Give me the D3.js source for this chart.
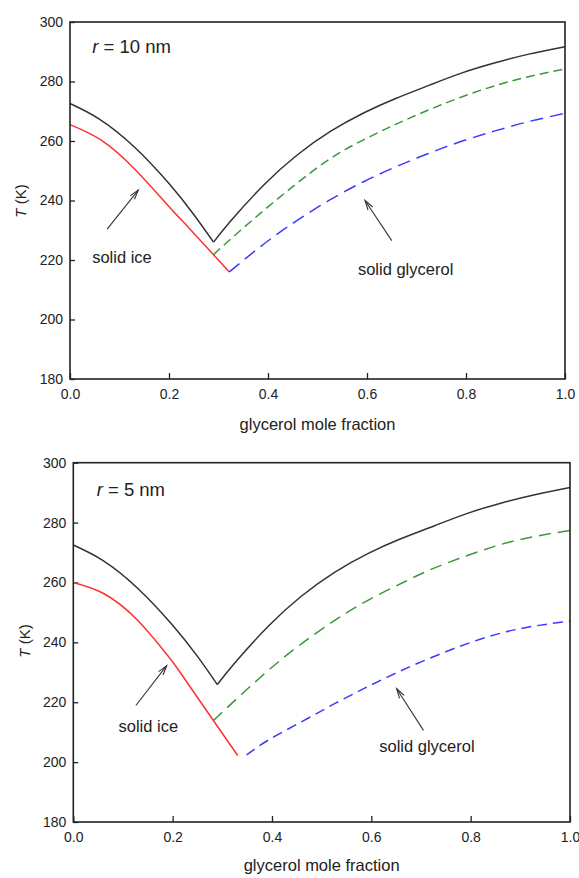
<!DOCTYPE html>
<html>
<head>
<meta charset="utf-8">
<script src="https://cdn.jsdelivr.net/npm/d3@7"></script>
<style>
  html, body { margin: 0; padding: 0; background: #fff; }
  svg { display: block; font-family: "Liberation Sans", Arial, sans-serif; }
</style>
</head>
<body>
<svg id="chart" width="579" height="878"></svg>
<script>
// ---------------- data ----------------
const xTicks = [0, 0.2, 0.4, 0.6, 0.8, 1.0];
const yTicks = [180, 200, 220, 240, 260, 280, 300];

// r = 10 nm panel
const blackLeft10X  = [0, 0.06, 0.13, 0.2, 0.25, 0.29];
const blackLeft10T  = [272.6, 267.3, 258.0, 245.7, 235.3, 226.0];
const blackRight10X = [0.29, 0.325, 0.392, 0.459, 0.526, 0.594, 0.658, 0.725, 0.792, 0.859, 0.927, 1.0];
const blackRight10T = [226.0, 233.2, 245.3, 255.3, 263.2, 269.5, 274.3, 278.7, 282.9, 286.3, 289.2, 291.7];
const red10X   = [0, 0.063, 0.131, 0.198, 0.222, 0.25, 0.29, 0.322];
const red10T   = [265.5, 260.3, 250.5, 238.3, 234.0, 229.0, 221.8, 216.0];
const green10X = [0.29, 0.323, 0.391, 0.458, 0.525, 0.593, 0.658, 0.724, 0.791, 0.859, 0.926, 1.0];
const green10T = [221.8, 226.8, 236.6, 245.7, 254.0, 260.4, 265.6, 270.4, 274.8, 278.6, 281.6, 284.2];
const blue10X  = [0.322, 0.391, 0.458, 0.525, 0.593, 0.658, 0.724, 0.791, 0.859, 0.926, 1.0];
const blue10T  = [216.0, 225.3, 233.2, 240.2, 246.3, 251.3, 255.8, 259.9, 263.4, 266.5, 269.3];

// r = 5 nm panel
const blackLeft5X  = [0, 0.06, 0.13, 0.2, 0.25, 0.29];
const blackLeft5T  = [272.5, 267.3, 258.0, 245.7, 235.3, 225.9];
const blackRight5X = [0.29, 0.325, 0.392, 0.459, 0.526, 0.594, 0.658, 0.725, 0.792, 0.859, 0.927, 1.0];
const blackRight5T = [225.9, 233.1, 245.3, 255.4, 263.4, 269.7, 274.5, 278.8, 283.0, 286.4, 289.2, 291.7];
const red5X   = [0, 0.06, 0.128, 0.19, 0.215, 0.282, 0.331];
const red5T   = [260.0, 256.4, 247.6, 235.6, 230.0, 213.9, 202.2];
const green5X = [0.282, 0.326, 0.393, 0.46, 0.527, 0.594, 0.664, 0.725, 0.792, 0.859, 0.927, 1.0];
const green5T = [213.9, 220.7, 230.7, 239.6, 247.4, 254.1, 260.0, 264.7, 268.9, 272.6, 275.3, 277.4];
const blue5X  = [0.349, 0.393, 0.46, 0.527, 0.594, 0.658, 0.725, 0.792, 0.859, 0.927, 1.0];
const blue5T  = [202.4, 207.4, 213.5, 219.6, 225.3, 230.4, 235.2, 239.5, 243.0, 245.4, 247.1];

// annotation texts
const radiusLabels = ["10", "5"];
const iceLabel = "solid ice";
const glyLabel = "solid glycerol";
const xTitle = "glycerol mole fraction";

// ---------------- layout ----------------
const panels = [
  {
    box: {left: 70, right: 565, top: 22, bottom: 379},
    radius: radiusLabels[0],
    series: [
      {x: blackLeft10X, y: blackLeft10T, color: "#333333", dash: null},
      {x: blackRight10X, y: blackRight10T, color: "#333333", dash: null},
      {x: red10X, y: red10T, color: "#ff3030", dash: null},
      {x: green10X, y: green10T, color: "#3a983a", dash: "9,5"},
      {x: blue10X, y: blue10T, color: "#3a3aff", dash: "13,7"}
    ],
    rLabel: [0.045, 289.5],
    ice: {text: [0.105, 220.5], tail: [0.075, 230.4], head: [0.138, 243.5]},
    gly: {text: [0.678, 216.4], tail: [0.65, 226.5], head: [0.596, 240]},
    xTitleY: 430,
    yTitle: [26, 201]
  },
  {
    box: {left: 73.3, right: 570, top: 462.7, bottom: 822},
    radius: radiusLabels[1],
    series: [
      {x: blackLeft5X, y: blackLeft5T, color: "#333333", dash: null},
      {x: blackRight5X, y: blackRight5T, color: "#333333", dash: null},
      {x: red5X, y: red5T, color: "#ff3030", dash: null},
      {x: green5X, y: green5T, color: "#3a983a", dash: "12,7"},
      {x: blue5X, y: blue5T, color: "#3a3aff", dash: "10,6"}
    ],
    rLabel: [0.047, 289.0],
    ice: {text: [0.151, 211.5], tail: [0.126, 218.9], head: [0.188, 232.2]},
    gly: {text: [0.712, 204.8], tail: [0.705, 210.6], head: [0.651, 224.5]},
    xTitleY: 871,
    yTitle: [30, 641]
  }
];

const svg = d3.select("#chart");
const textColor = "#222";

panels.forEach(p => {
  const b = p.box;
  const x = d3.scaleLinear().domain([0, 1]).range([b.left, b.right]);
  const y = d3.scaleLinear().domain([180, 300]).range([b.bottom, b.top]);
  const g = svg.append("g");

  // x axis
  const xa = g.append("g")
    .attr("transform", `translate(0,${b.bottom})`)
    .call(d3.axisBottom(x).tickValues(xTicks).tickFormat(d3.format(".1f"))
      .tickSizeInner(-6).tickSizeOuter(0).tickPadding(10));
  // y axis
  const ya = g.append("g")
    .attr("transform", `translate(${b.left},0)`)
    .call(d3.axisLeft(y).tickValues(yTicks).tickFormat(d3.format("d"))
      .tickSizeInner(-5).tickSizeOuter(0).tickPadding(7));
  [xa, ya].forEach(a => {
    a.select(".domain").remove();
    a.selectAll("line").attr("stroke", "#222").attr("stroke-width", 1.3);
    a.selectAll("text").attr("fill", textColor).attr("font-size", 14)
      .attr("font-family", "'Liberation Sans', Arial, sans-serif");
  });

  // lines
  const line = d3.line().curve(d3.curveNatural);
  p.series.forEach(s => {
    const pts = s.x.map((v, i) => [x(v), y(s.y[i])]);
    g.append("path")
      .attr("d", line(pts))
      .attr("fill", "none")
      .attr("stroke", s.color)
      .attr("stroke-width", 1.5)
      .attr("stroke-dasharray", s.dash);
  });

  // frame
  g.append("rect")
    .attr("x", b.left).attr("y", b.top)
    .attr("width", b.right - b.left).attr("height", b.bottom - b.top)
    .attr("fill", "none").attr("stroke", "#222").attr("stroke-width", 1.6);

  // radius label
  const rt = g.append("text")
    .attr("x", x(p.rLabel[0])).attr("y", y(p.rLabel[1]))
    .attr("font-size", 18.5).attr("fill", textColor);
  rt.append("tspan").attr("font-style", "italic").text("r");
  rt.append("tspan").text(` = ${p.radius} nm`);

  // annotations
  [[p.ice, iceLabel], [p.gly, glyLabel]].forEach(([a, label]) => {
    g.append("text")
      .attr("x", x(a.text[0])).attr("y", y(a.text[1]))
      .attr("text-anchor", "middle")
      .attr("dominant-baseline", "middle")
      .attr("font-size", 16.5).attr("fill", textColor)
      .text(label);
    const x1 = x(a.tail[0]), y1 = y(a.tail[1]), x2 = x(a.head[0]), y2 = y(a.head[1]);
    g.append("line")
      .attr("x1", x1).attr("y1", y1).attr("x2", x2).attr("y2", y2)
      .attr("stroke", "#333").attr("stroke-width", 1.1);
    const ang = Math.atan2(y1 - y2, x1 - x2);
    const hl = 10, spread = 0.28;
    const hp = [
      [x2 + hl * Math.cos(ang + spread), y2 + hl * Math.sin(ang + spread)],
      [x2, y2],
      [x2 + hl * Math.cos(ang - spread), y2 + hl * Math.sin(ang - spread)]
    ];
    g.append("path")
      .attr("d", d3.line()(hp))
      .attr("fill", "none").attr("stroke", "#333").attr("stroke-width", 1.1);
  });

  // axis titles
  g.append("text")
    .attr("x", (b.left + b.right) / 2).attr("y", p.xTitleY)
    .attr("text-anchor", "middle")
    .attr("font-size", 16.5).attr("fill", textColor)
    .text(xTitle);
  const yt = g.append("text")
    .attr("transform", `translate(${p.yTitle[0]},${p.yTitle[1]}) rotate(-90)`)
    .attr("text-anchor", "middle")
    .attr("font-size", 15).attr("fill", textColor);
  yt.append("tspan").attr("font-style", "italic").text("T");
  yt.append("tspan").text(" (K)");
});
</script>
</body>
</html>
